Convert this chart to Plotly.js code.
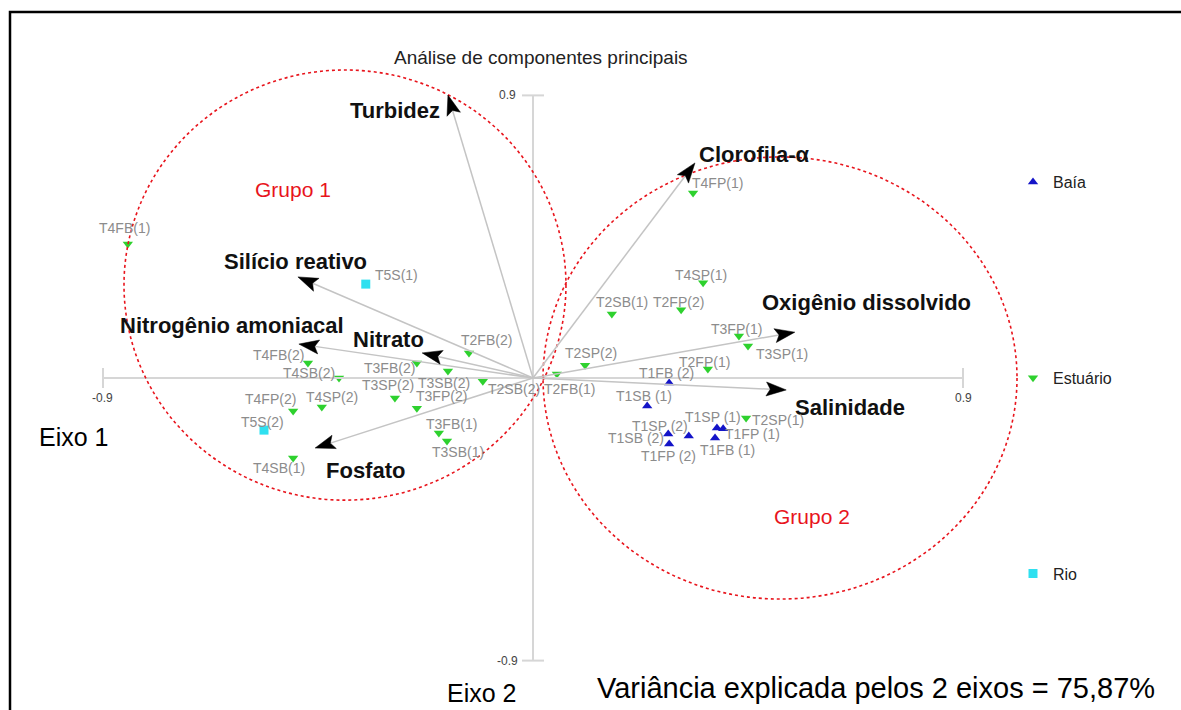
<!DOCTYPE html>
<html>
<head>
<meta charset="utf-8">
<script src="https://cdn.plot.ly/plotly-3.0.1.min.js"></script>
<style>
  html, body { margin: 0; padding: 0; background: #fff; }
  #grafico { width: 1181px; height: 710px; }
</style>
</head>
<body>
<div id="grafico"></div>
<script>
// variaveis (setas)
const varNomes = ['Turbidez', 'Clorofila-α', 'Silício reativo', 'Nitrogênio amoniacal', 'Nitrato', 'Fosfato', 'Oxigênio dissolvido', 'Salinidade'];
const varX = [-0.178, 0.339, -0.492, -0.490, -0.232, -0.456, 0.548, 0.530];
const varY = [0.901, 0.685, 0.322, 0.108, 0.080, -0.223, 0.146, -0.038];

// amostras
const baiaNomes = ['T1FB (2)', 'T1SB (1)', 'T1SB (2)', 'T1FP (2)', 'T1SP (2)', 'T1SP (1)', 'T1FP (1)', 'T1FB (1)'];
const baiaX = [0.285, 0.239, 0.283, 0.285, 0.326, 0.385, 0.398, 0.381];
const baiaY = [-0.016, -0.089, -0.178, -0.210, -0.185, -0.159, -0.162, -0.191];

const estNomes = ['T4FB(1)', 'T4FB(2)', 'T4SB(2)', 'T4FP(2)', 'T4SP(2)', 'T4SB(1)', 'T2FB(2)', 'T3FB(2)',
  'T3SB(2)', 'T2SB(2)', 'T3SP(2)', 'T3FP(2)', 'T3FB(1)', 'T3SB(1)', 'T2FB(1)', 'T2SP(2)',
  'T4FP(1)', 'T4SP(1)', 'T2SB(1)', 'T2FP(2)', 'T3FP(1)', 'T3SP(1)', 'T2FP(1)', 'T2SP(1)'];
const estX = [-0.848, -0.471, -0.406, -0.502, -0.442, -0.502, -0.134, -0.243,
  -0.178, -0.105, -0.289, -0.243, -0.197, -0.180, 0.050, 0.109,
  0.335, 0.356, 0.165, 0.310, 0.431, 0.450, 0.366, 0.446];
const estY = [0.427, 0.048, 0.000, -0.105, -0.092, -0.255, 0.080, 0.048,
  0.022, -0.010, -0.064, -0.096, -0.175, -0.201, 0.013, 0.041,
  0.589, 0.303, 0.204, 0.217, 0.134, 0.102, 0.029, -0.127];

const rioNomes = ['T5S(1)', 'T5S(2)'];
const rioX = [-0.350, -0.563];
const rioY = [0.299, -0.166];

// deslocamento dos rotulos em px (dx, dy para baixo)
const varDesl = [[-53, 15], [60, -8], [-2, -15], [-67, -19], [-34, -13], [50, 22], [72, -30], [64, 18]];
const baiaDesl = [[-3, -10], [-3, -10], [-32, 4], [-1, 12], [-29, -10], [-4, -11], [29, 5], [12, 12]];
const estDesl = [[-3, -16], [-29, -8], [-30, -5], [-23, -12], [10, -10], [-14, 10], [18, -13], [-27, 5],
  [-4, 12], [31, 8], [-7, -13], [25, -12], [13, -9], [11, 11], [13, 15], [6, -12],
  [24, -10], [-2, -8], [10, -12], [-3, -8], [-2, -7], [34, 8], [-3, -7], [32, 2]];
const rioDesl = [[31, -9], [-2, -8]];

const W = 1181, H = 710;
const X0 = 533, Y0 = 378, SX = 477.8, SY = 314;
const fonte = 'Liberation Sans, Arial, sans-serif';

function paraPx(x, y) { return [X0 + x * SX, Y0 - y * SY]; }
function paraDado(px, py) { return [(px - X0) / SX, (Y0 - py) / SY]; }

const shapes = [];
const annotations = [];

// moldura
shapes.push({ type: 'rect', xref: 'paper', yref: 'paper', x0: 10 / W, x1: 1.05, y0: -0.05, y1: 1 - 12 / H,
  line: { color: '#000', width: 2.5 } });

// eixos
const cinzaEixo = '#d6d6d6';
shapes.push({ type: 'line', x0: -0.9, x1: 0.9, y0: 0, y1: 0, line: { color: cinzaEixo, width: 2 } });
shapes.push({ type: 'line', x0: 0, x1: 0, y0: -0.9, y1: 0.9, line: { color: cinzaEixo, width: 2 } });
[-0.9, 0.9].forEach(v => {
  shapes.push({ type: 'line', x0: v, x1: v, y0: -10 / SY, y1: 10 / SY, line: { color: cinzaEixo, width: 2 } });
  shapes.push({ type: 'line', x0: -11 / SX, x1: 11 / SX, y0: v, y1: v, line: { color: cinzaEixo, width: 2 } });
  annotations.push({ x: v, y: 0, yshift: -20, text: v < 0 ? '-0.9' : '0.9', showarrow: false,
    font: { family: fonte, size: 12, color: '#444' } });
  annotations.push({ x: 0, y: v, xshift: -26, text: v < 0 ? '-0.9' : '0.9', showarrow: false,
    font: { family: fonte, size: 12, color: '#444' } });
});

// circulos dos grupos
const vermelho = '#e8141c';
shapes.push({ type: 'circle', x0: -0.856, x1: 0.069, y0: -0.389, y1: 0.981,
  line: { color: vermelho, width: 1.6, dash: 'dot' } });
shapes.push({ type: 'circle', x0: 0.021, x1: 1.013, y0: -0.704, y1: 0.704,
  line: { color: vermelho, width: 1.6, dash: 'dot' } });

// setas
varNomes.forEach((nome, i) => {
  const [tx, ty] = paraPx(varX[i], varY[i]);
  const [ox, oy] = paraPx(0, 0);
  const len = Math.hypot(tx - ox, ty - oy);
  const ux = (tx - ox) / len, uy = (ty - oy) / len;
  const L = 20, Wd = 7;
  const bx = tx - ux * L, by = ty - uy * L;
  const p1 = paraDado(bx - uy * Wd, by + ux * Wd);
  const p2 = paraDado(tx - ux * L * 0.8, ty - uy * L * 0.8);
  const p3 = paraDado(bx + uy * Wd, by - ux * Wd);
  shapes.push({ type: 'line', x0: 0, y0: 0, x1: p2[0], y1: p2[1], line: { color: '#c4c4c4', width: 1.5 } });
  shapes.push({ type: 'path', path: `M${varX[i]},${varY[i]} L${p1[0]},${p1[1]} L${p2[0]},${p2[1]} L${p3[0]},${p3[1]} Z`,
    fillcolor: '#000', line: { color: '#000', width: 0.5 } });
  annotations.push({ x: varX[i], y: varY[i], xshift: varDesl[i][0], yshift: -varDesl[i][1],
    text: '<b>' + nome + '</b>', showarrow: false, font: { family: fonte, size: 22, color: '#111' } });
});

// rotulos das amostras
function rotulos(nomes, xs, ys, desl) {
  nomes.forEach((nome, i) => {
    annotations.push({ x: xs[i], y: ys[i], xshift: desl[i][0], yshift: -desl[i][1], text: nome,
      showarrow: false, font: { family: fonte, size: 14, color: '#8c8c8c' } });
  });
}
rotulos(baiaNomes, baiaX, baiaY, baiaDesl);
rotulos(estNomes, estX, estY, estDesl);
rotulos(rioNomes, rioX, rioY, rioDesl);

// textos soltos
function textoPx(px, py, texto, tam, cor) {
  annotations.push({ xref: 'paper', yref: 'paper', x: px / W, y: 1 - py / H, xanchor: 'center', yanchor: 'middle',
    text: texto, showarrow: false, font: { family: fonte, size: tam, color: cor } });
}
textoPx(541, 57, 'Análise de componentes principais', 19, '#222');
textoPx(293, 190, 'Grupo 1', 21, vermelho);
textoPx(812, 516, 'Grupo 2', 21, vermelho);
textoPx(73, 437, 'Eixo 1', 25, '#000');
textoPx(481, 693, 'Eixo 2', 25, '#000');
textoPx(876, 688, 'Variância explicada pelos 2 eixos = 75,87%', 29, '#000');

const baia = {
  x: baiaX, y: baiaY, type: 'scatter', mode: 'markers', name: 'Baía', legendgroup: 'a',
  marker: { symbol: 'triangle-up', size: 9, color: '#1414c8' }
};
const estuario = {
  x: estX, y: estY, type: 'scatter', mode: 'markers', name: 'Estuário', legendgroup: 'b',
  marker: { symbol: 'triangle-down', size: 9, color: '#2ed12e' }
};
const rio = {
  x: rioX, y: rioY, type: 'scatter', mode: 'markers', name: 'Rio', legendgroup: 'c',
  marker: { symbol: 'square', size: 9, color: '#2fe0f0' }
};

const layout = {
  width: W,
  height: H,
  margin: { l: 0, r: 0, t: 0, b: 0 },
  paper_bgcolor: '#fff',
  plot_bgcolor: '#fff',
  font: { family: fonte },
  xaxis: { range: [-X0 / SX, (W - X0) / SX], visible: false, fixedrange: true },
  yaxis: { range: [(Y0 - H) / SY, Y0 / SY], visible: false, fixedrange: true },
  showlegend: true,
  legend: {
    x: 1013 / W, y: 1 - 165 / H, xanchor: 'left', yanchor: 'top',
    traceorder: 'grouped', tracegroupgap: 172,
    font: { family: fonte, size: 16, color: '#222' },
    bgcolor: 'rgba(0,0,0,0)'
  },
  shapes: shapes,
  annotations: annotations
};

Plotly.newPlot('grafico', [baia, estuario, rio], layout, { displayModeBar: false, staticPlot: true });
</script>
</body>
</html>
